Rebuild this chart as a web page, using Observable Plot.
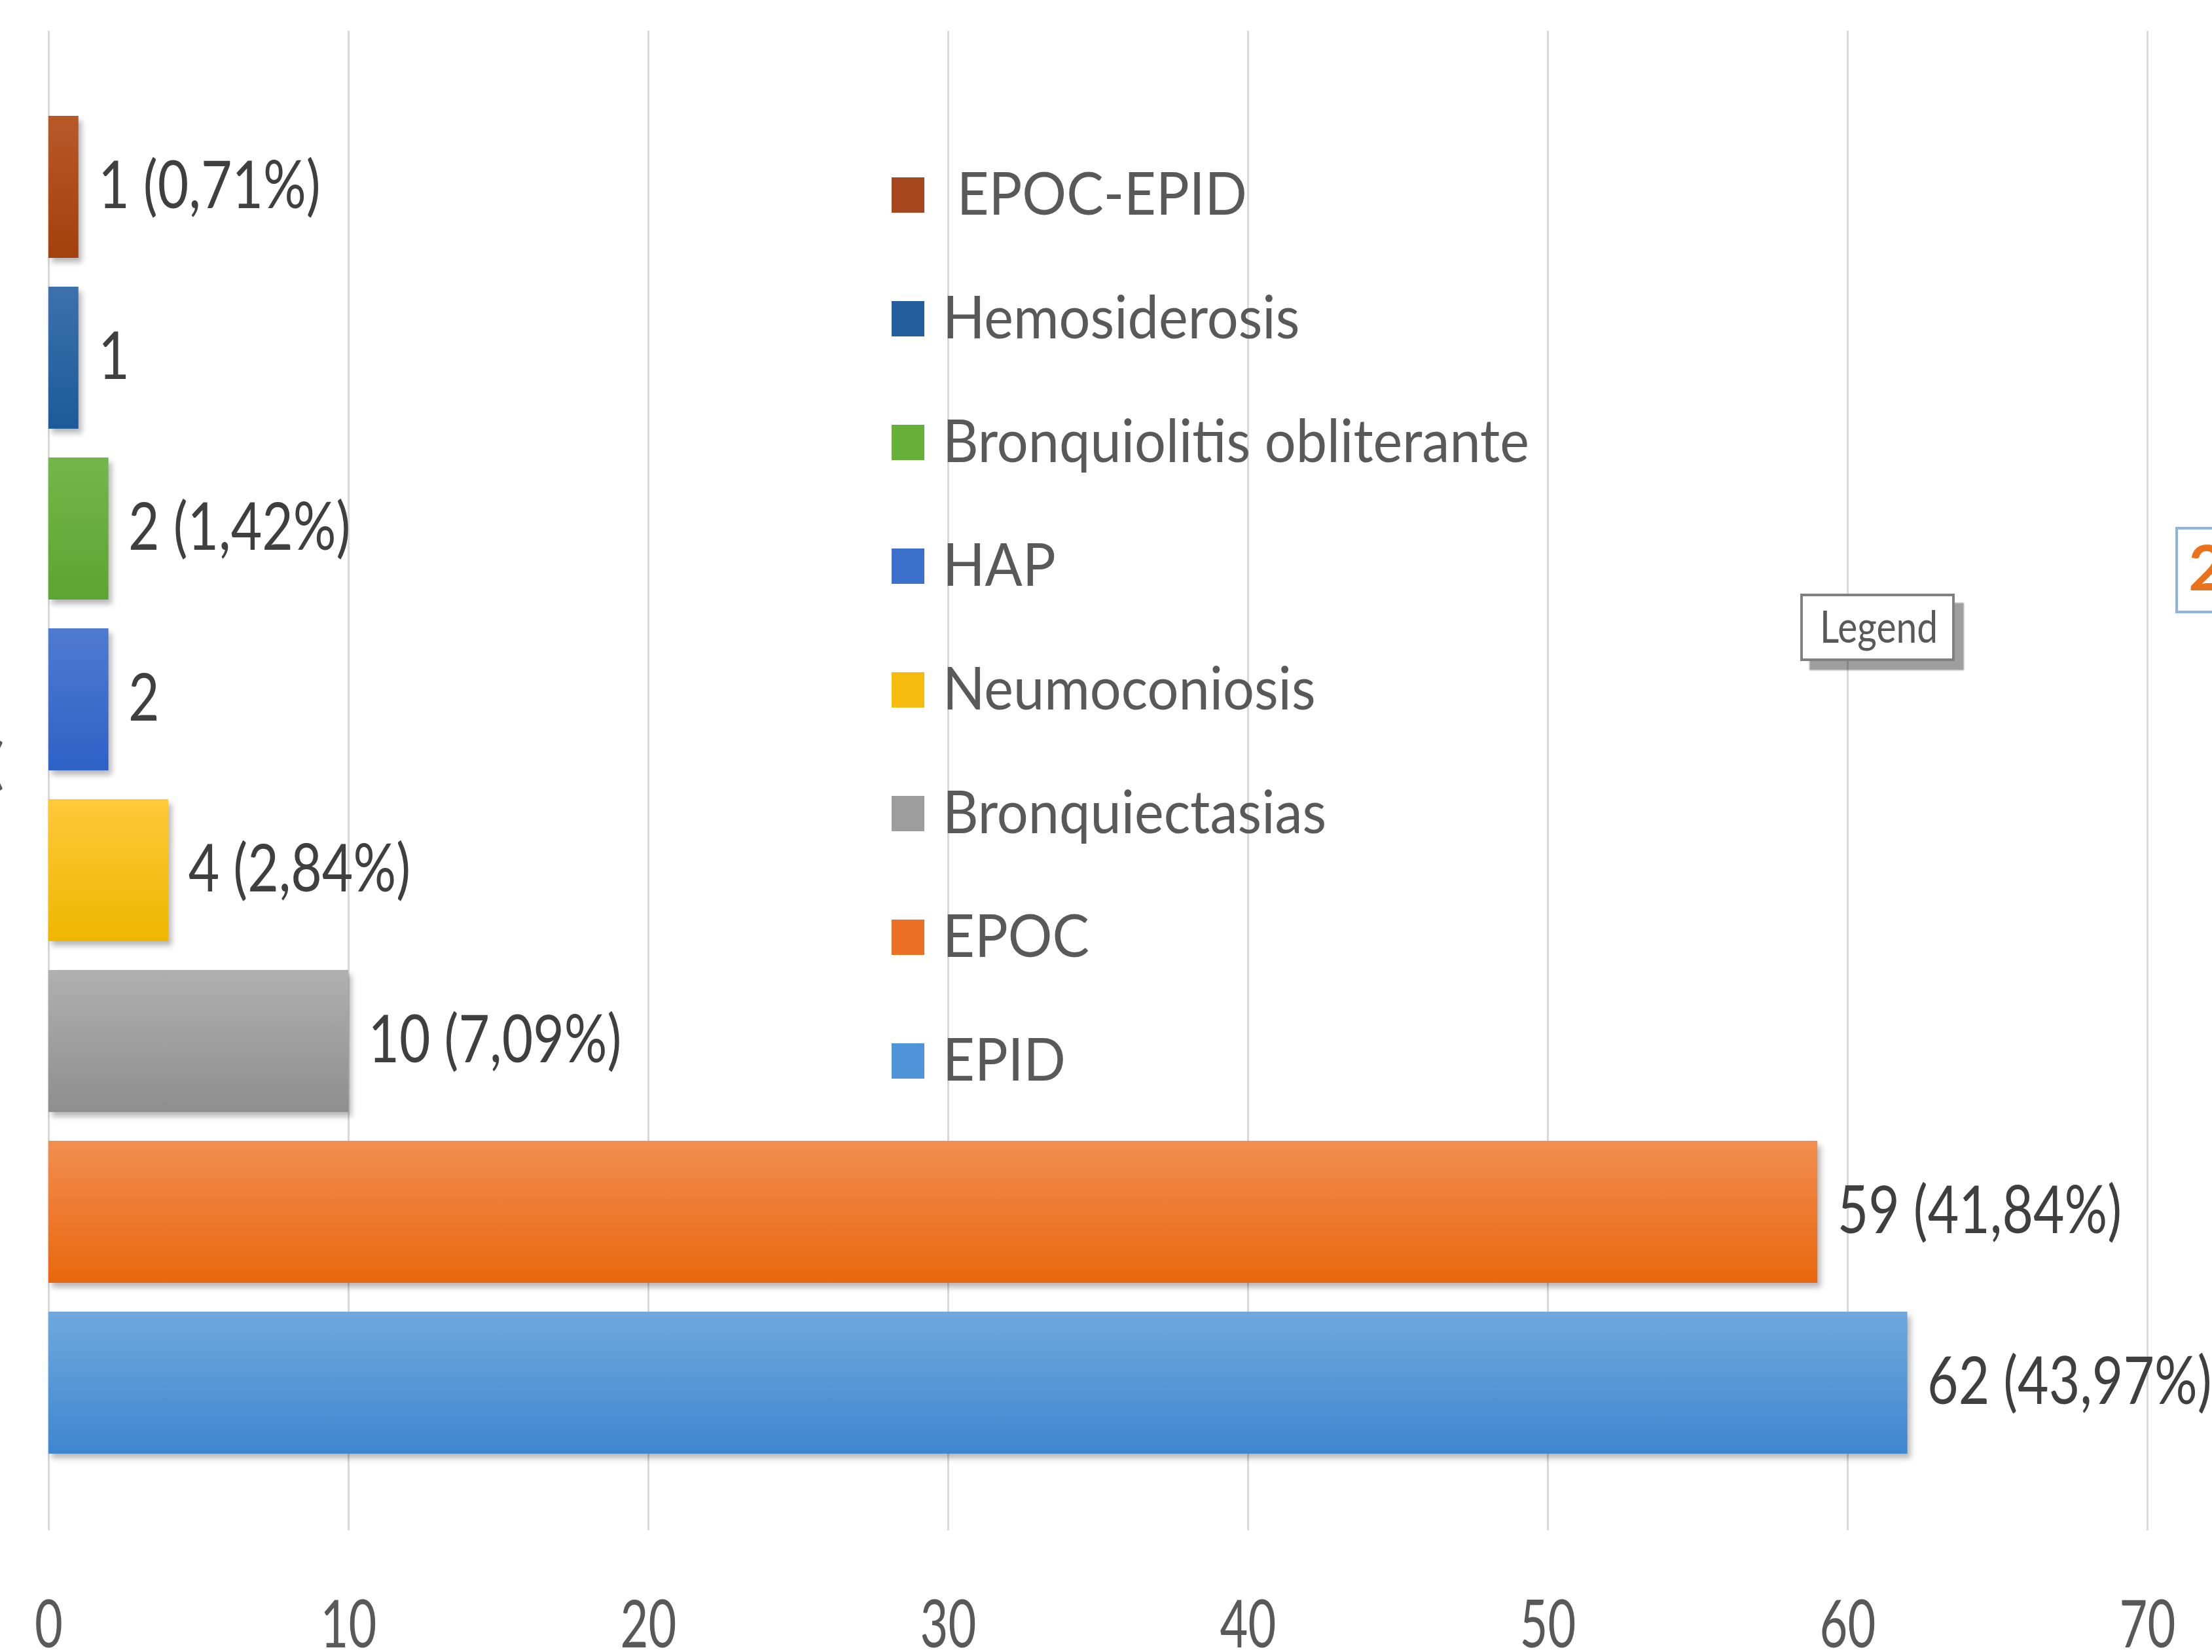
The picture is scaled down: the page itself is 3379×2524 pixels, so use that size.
<!DOCTYPE html>
<html>
<head>
<meta charset="utf-8">
<script src="https://cdn.jsdelivr.net/npm/d3@7"></script>
<script src="https://cdn.jsdelivr.net/npm/@observablehq/plot@0.6"></script>
<style>
  html, body { margin: 0; padding: 0; background: #ffffff; }
  #wrap { position: relative; width: 3379px; height: 2524px; overflow: hidden; font-family: Lato, "Open Sans", sans-serif; }
  #chart { position: absolute; left: 0; top: 0; }
  g[aria-label="bar"] rect { filter: drop-shadow(5px 7px 4px rgba(0,0,0,0.28)); }
  .legend { position: absolute; left: 1362px; top: 0; }
  .lrow { position: absolute; left: 0; height: 0; white-space: pre; }
  .sw { position: absolute; left: 0; top: -27px; width: 50px; height: 54px; }
  .lt { position: absolute; left: 78px; top: -5px; transform-origin: 0 50%; transform: translateY(-50%) scaleX(0.92);
        font-size: 92px; line-height: 1; color: #595959; }
  .tip { position: absolute; left: 2750px; top: 907px; width: 236px; height: 103px; box-sizing: border-box;
         border: 4px solid #808080; background: #fff; box-shadow: 14px 14px 2px rgba(0,0,0,0.38); }
  .tip span { position: absolute; left: 26px; top: 12px; font-size: 67px; line-height: 1; color: #595959;
              transform-origin: 0 0; transform: scaleX(0.85); }
  .two { position: absolute; left: 3323px; top: 805px; width: 120px; height: 132px; box-sizing: border-box;
         border: 4px solid #8db3e2; background: #fff; }
  .two span { position: absolute; left: 16px; top: 8px; font-size: 96px; font-weight: 700; line-height: 1; color: #e8731c; }
  .paren { position: absolute; left: -16px; top: 1122px; font-size: 84px; line-height: 1; color: #595959; }
</style>
</head>
<body>
<div id="wrap"></div>
<script>
// ---- data ----
const categories = ["EPOC-EPID", "Hemosiderosis", "Bronquiolitis obliterante", "HAP",
                    "Neumoconiosis", "Bronquiectasias", "EPOC", "EPID"];
const counts = [1, 1, 2, 2, 4, 10, 59, 62];
const valueLabels = ["1 (0,71%)", "1", "2 (1,42%)", "2", "4 (2,84%)", "10 (7,09%)", "59 (41,84%)", "62 (43,97%)"];
const legendLabels = [" EPOC-EPID", "Hemosiderosis", "Bronquiolitis obliterante", "HAP",
                      "Neumoconiosis", "Bronquiectasias", "EPOC", "EPID"];
const xTicks = [0, 10, 20, 30, 40, 50, 60, 70];

// ---- styles ----
const topColors    = ["#b8592a", "#3c71ad", "#74b64a", "#4f7bd0", "#ffc93a", "#b0b0b0", "#f28e50", "#70a8de"];
const bottomColors = ["#a3410c", "#1d5a99", "#5ca532", "#2f60c6", "#efb600", "#8e8e8e", "#e8670e", "#3e86cf"];
const swatchColors = ["#a5461c", "#255e9e", "#67b03a", "#3d6fcd", "#f5bb0f", "#9d9d9d", "#ed7125", "#4f94d8"];

const rows = categories.map((c, i) => ({
  category: c, count: counts[i], label: valueLabels[i], grad: `url(#grad-${i})`
}));

const defsMark = () => {
  const defs = d3.create("svg:defs");
  categories.forEach((c, i) => {
    const g = defs.append("linearGradient").attr("id", `grad-${i}`)
      .attr("x1", 0).attr("y1", 0).attr("x2", 0).attr("y2", 1);
    g.append("stop").attr("offset", "0%").attr("stop-color", topColors[i]);
    g.append("stop").attr("offset", "100%").attr("stop-color", bottomColors[i]);
  });
  return defs.node();
};

const svg = Plot.plot({
  width: 3379,
  height: 2524,
  marginLeft: 74,
  marginRight: 99,
  marginTop: 154,
  marginBottom: 281,
  style: { fontFamily: "Lato, 'Open Sans', sans-serif", fontSize: "100px", color: "#595959", background: "#ffffff" },
  x: { domain: [0, 70] },
  y: { domain: categories, paddingInner: 0.17, paddingOuter: 0.085, axis: null },
  color: { type: "identity" },
  marks: [
    defsMark,
    Plot.ruleX(xTicks, { stroke: "#d9d9d9", strokeWidth: 3, insetTop: -107, insetBottom: -95 }),
    Plot.barX(rows, { x: "count", y: "category", fill: "grad" }),
    Plot.text(rows, { x: "count", y: "category", text: "label", textAnchor: "start", dx: 30,
                      fontSize: 100, fill: "#3f3f3f" }),
    Plot.axisX({ ticks: xTicks, tickSize: 0, tickPadding: 202, label: null, fontSize: 100, tickFormat: d => String(d) })
  ]
});

// horizontally condense the text (the reference uses a narrow face)
function condense(sel, k) {
  d3.select(svg).selectAll(sel).each(function () {
    const t = this.getAttribute("transform") || "";
    this.setAttribute("transform", `${t} scale(${k},1)`);
  });
}
condense('g[aria-label="text"] text', 0.82);
condense('g[aria-label="x-axis tick label"] text', 0.74);

svg.id = "chart";
const wrap = document.getElementById("wrap");
wrap.appendChild(svg);

// legend drawn inside the plot area
const legend = document.createElement("div");
legend.className = "legend";
legendLabels.forEach((lab, i) => {
  const row = document.createElement("div");
  row.className = "lrow";
  row.style.top = (298 + 189 * i) + "px";
  const sw = document.createElement("div");
  sw.className = "sw";
  sw.style.background = swatchColors[i];
  const t = document.createElement("div");
  t.className = "lt";
  t.textContent = lab;
  row.appendChild(sw); row.appendChild(t);
  legend.appendChild(row);
});
wrap.appendChild(legend);

const tip = document.createElement("div");
tip.className = "tip";
tip.innerHTML = "<span>Legend</span>";
wrap.appendChild(tip);

const two = document.createElement("div");
two.className = "two";
two.innerHTML = "<span>2</span>";
wrap.appendChild(two);

const paren = document.createElement("div");
paren.className = "paren";
paren.textContent = "(";
wrap.appendChild(paren);
</script>
</body>
</html>
